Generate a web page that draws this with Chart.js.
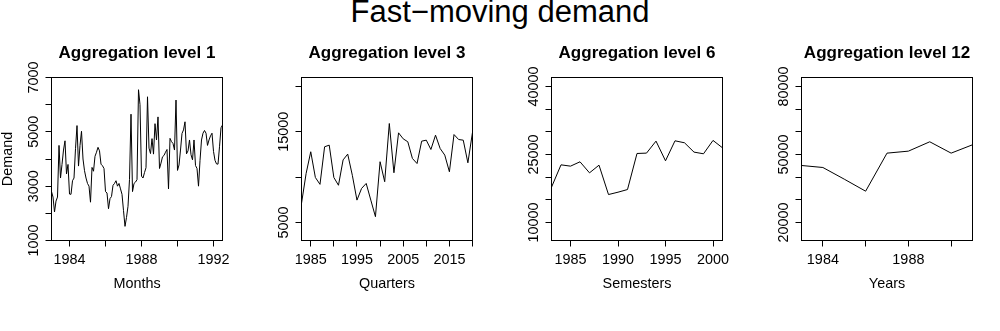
<!DOCTYPE html>
<html>
<head>
<meta charset="utf-8">
<script src="https://cdn.jsdelivr.net/npm/chart.js@4.4.1/dist/chart.umd.min.js"></script>
<style>
  html, body { margin: 0; padding: 0; background: #fff; }
  #wrap { position: relative; width: 1000px; height: 331px; overflow: hidden; }
  #main {
    position: absolute; left: 0; top: -4px; width: 1000px; text-align: center;
    font: 31px "Liberation Sans", Arial, sans-serif; line-height: 31px; color: #000;
  }
  canvas { position: absolute; top: 0; }
</style>
</head>
<body>
<div id="wrap">
  <div id="main">Fast−moving demand</div>
  <canvas id="p1" width="250" height="331" style="left:0px"></canvas>
  <canvas id="p3" width="250" height="331" style="left:250px"></canvas>
  <canvas id="p6" width="250" height="331" style="left:500px"></canvas>
  <canvas id="p12" width="250" height="331" style="left:750px"></canvas>
</div>
<script>
// Demand series, first period 1983
const startYear = 1983;

const monthlyDemand = [
  2800, 2600, 2050, 2450, 2600, 4500, 3300, 3800, 4330, 4670, 3450, 3800,
  2710, 2700, 3200, 3300, 4380, 5230, 3740, 4500, 5020, 4000, 3570, 3300,
  3100, 3000, 2410, 3690, 3550, 4100, 4250, 4430, 4300, 3810, 3750, 3650,
  2800, 2750, 2170, 2540, 2620, 3030, 3100, 3200, 3000, 3100, 2900, 2700,
  2100, 1520, 1850, 2260, 3250, 5650, 2800, 3100, 3150, 3240, 6550, 6000,
  3370, 3300, 3500, 3680, 6290, 4400, 4200, 4750, 4180, 5300, 4700, 5550,
  3650, 3850, 4080, 4130, 4250, 4350, 2900, 4760, 4640, 4570, 4330, 6170,
  3580, 3780, 4330, 4940, 5070, 5370, 4190, 4300, 4700, 4160, 3970, 4700,
  3760, 3650, 3000, 3940, 4700, 4950, 5050, 4950, 4500, 4700, 4850, 4950,
  4280, 3950, 3820, 3810, 4450, 5150, 5250
];

const quarterlyDemand = [
  7100, 10400, 12800, 9960, 9200, 13350, 13530, 9960, 9100, 11900,
  12540, 10200, 7460, 8750, 9300, 7460, 5630, 11700, 9490, 15920,
  10480, 14890, 14230, 13900, 12060, 11500, 13970, 14080, 13050, 14630,
  13160, 12430, 10590, 14700, 14150, 14080, 11580, 14950
];

const semesterDemand = [
  17770, 22710, 22420, 23380, 20940, 22640, 16150, 16670, 17260, 25220,
  25300, 27950, 23600, 28020, 27580, 25520, 25150, 28100, 26470
];

const yearlyDemand = [45130, 44250, 39090, 33780, 50590, 51470, 55600, 50590, 54280];

// Axis ticks and which of them carry a label
const monthTicks = [1984, 1986, 1988, 1990, 1992];
const monthLabels = [1984, 1988, 1992];
const quarterTicks = [1985, 1990, 1995, 2000, 2005, 2010, 2015, 2020];
const quarterLabels = [1985, 1995, 2005, 2015];
const semesterTicks = [1985, 1990, 1995, 2000];
const semesterLabels = [1985, 1990, 1995, 2000];
const yearTicks = [1984, 1986, 1988, 1990];
const yearLabels = [1984, 1988];

const demandTicks1 = [1000, 2000, 3000, 4000, 5000, 6000, 7000];
const demandLabels1 = [1000, 3000, 5000, 7000];
const demandTicks3 = [5000, 10000, 15000, 20000];
const demandLabels3 = [5000, 15000];
const demandTicks6 = [10000, 15000, 20000, 25000, 30000, 35000, 40000];
const demandLabels6 = [10000, 25000, 40000];
const demandTicks12 = [20000, 30000, 40000, 50000, 60000, 70000, 80000];
const demandLabels12 = [20000, 50000, 80000];

// Demand axis spans 1000..7000 times the aggregation level
const demandRange = [1000, 7000];

const FONT = '"Liberation Sans", Arial, sans-serif';
const TEXT_PX = 14.4;

const panels = [
  { id: 'p1', level: 1, title: 'Aggregation level 1', xTitle: 'Months', yTitle: 'Demand',
    values: monthlyDemand, step: 1 / 12, xTicks: monthTicks, xLabels: monthLabels,
    yTicks: demandTicks1, yLabels: demandLabels1 },
  { id: 'p3', level: 3, title: 'Aggregation level 3', xTitle: 'Quarters', yTitle: '',
    values: quarterlyDemand, step: 1, xTicks: quarterTicks, xLabels: quarterLabels,
    yTicks: demandTicks3, yLabels: demandLabels3 },
  { id: 'p6', level: 6, title: 'Aggregation level 6', xTitle: 'Semesters', yTitle: '',
    values: semesterDemand, step: 1, xTicks: semesterTicks, xLabels: semesterLabels,
    yTicks: demandTicks6, yLabels: demandLabels6 },
  { id: 'p12', level: 12, title: 'Aggregation level 12', xTitle: 'Years', yTitle: '',
    values: yearlyDemand, step: 1, xTicks: yearTicks, xLabels: yearLabels,
    yTicks: demandTicks12, yLabels: demandLabels12 }
];

// Plot frame drawn around the whole chart area
const framePlugin = {
  id: 'frame',
  afterDatasetsDraw(chart) {
    const { ctx, chartArea: a } = chart;
    ctx.save();
    ctx.strokeStyle = '#000';
    ctx.lineWidth = 1;
    ctx.strokeRect(a.left, a.top, a.right - a.left, a.bottom - a.top);
    ctx.restore();
  }
};

const TICK_LEN = 6;
const Y_AXIS_WIDTH = 51.5;
const X_AXIS_HEIGHT = 90.5;
const LABEL_GAP = 17.5;   // axis line to centre of the rotated demand labels

function drawPanel(p) {
  const canvas = document.getElementById(p.id);
  const ctx = canvas.getContext('2d');
  ctx.font = TEXT_PX + 'px ' + FONT;
  const widest = Math.max(...p.yLabels.map(v => ctx.measureText(String(v)).width));

  const points = p.values.map((v, i) => ({ x: startYear + i * p.step, y: v }));
  const xMax = startYear + (p.values.length - 1) * p.step;

  new Chart(ctx, {
    type: 'line',
    data: {
      datasets: [{
        data: points,
        borderColor: '#000',
        borderWidth: 1,
        pointRadius: 0,
        pointHoverRadius: 0,
        tension: 0,
        fill: false
      }]
    },
    options: {
      responsive: false,
      animation: false,
      devicePixelRatio: 1,
      events: [],
      layout: { padding: { left: 0, right: 27.5, top: 0, bottom: 0 } },
      plugins: {
        legend: { display: false },
        tooltip: { enabled: false },
        title: {
          display: true,
          text: p.title,
          fullSize: false,
          color: '#000',
          font: { family: FONT, size: 17, weight: 'bold', lineHeight: 1.2 },
          padding: { top: 43.2, bottom: 13.9 }
        }
      },
      scales: {
        x: {
          type: 'linear',
          min: startYear,
          max: xMax,
          afterBuildTicks: s => { s.ticks = p.xTicks.map(v => ({ value: v })); },
          afterFit: s => { s.height = X_AXIS_HEIGHT; },
          border: { display: false },
          grid: { drawOnChartArea: false, drawTicks: true, tickLength: TICK_LEN, color: '#000', lineWidth: 1 },
          ticks: {
            autoSkip: false, minRotation: 0, maxRotation: 0, padding: 5, color: '#000',
            font: { family: FONT, size: TEXT_PX },
            callback: v => (p.xLabels.includes(v) ? String(v) : '')
          },
          title: {
            display: true, text: p.xTitle, color: '#000',
            font: { family: FONT, size: TEXT_PX },
            padding: { top: 0, bottom: 38 }
          }
        },
        y: {
          type: 'linear',
          min: demandRange[0] * p.level,
          max: demandRange[1] * p.level,
          afterBuildTicks: s => { s.ticks = p.yTicks.map(v => ({ value: v })); },
          afterFit: s => { s.width = Y_AXIS_WIDTH; },
          border: { display: false },
          grid: { drawOnChartArea: false, drawTicks: true, tickLength: TICK_LEN, color: '#000', lineWidth: 1 },
          ticks: {
            autoSkip: false, minRotation: 90, maxRotation: 90, crossAlign: 'center',
            padding: LABEL_GAP - TICK_LEN - widest / 2, color: '#000',
            font: { family: FONT, size: TEXT_PX },
            callback: v => (p.yLabels.includes(v) ? String(v) : '')
          },
          title: {
            display: p.yTitle !== '', text: p.yTitle, color: '#000',
            font: { family: FONT, size: TEXT_PX },
            padding: { top: -1, bottom: 0 }
          }
        }
      }
    },
    plugins: [framePlugin]
  });
}

panels.forEach(drawPanel);
</script>
</body>
</html>
